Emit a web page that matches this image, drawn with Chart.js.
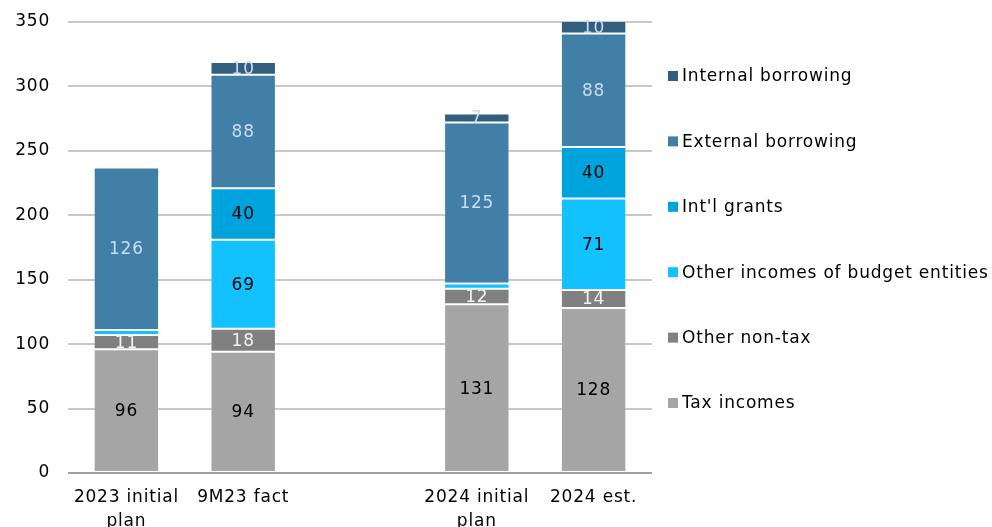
<!DOCTYPE html>
<html><head><meta charset="utf-8">
<script src="https://cdn.jsdelivr.net/npm/chart.js@4/dist/chart.umd.min.js"></script>
<style>html,body{margin:0;padding:0;background:#fff;overflow:hidden}#wrap{width:992px;height:527px;position:relative;overflow:hidden}</style>
</head><body><div id="wrap"><canvas id="c" width="992" height="527"></canvas></div>
<script>
const categories = [["2023 initial","plan"], "9M23 fact", "", ["2024 initial","plan"], "2024 est."];
const taxIncomes      = [96, 94, null, 131, 128];
const otherNonTax     = [11, 18, null, 12, 14];
const otherIncomes    = [4, 69, null, 4, 71];
const intlGrants      = [0, 40, null, 0, 40];
const externalBorrow  = [126, 88, null, 125, 88];
const internalBorrow  = [-1, 10, null, 7, 10];
const yTicks = [0, 50, 100, 150, 200, 250, 300, 350];

const FONT = "'DejaVu Sans', Verdana, sans-serif";
const LS = '0.8px';
const series = [
  {label:"Tax incomes", data:taxIncomes, color:"#A5A5A5", txt:"#000000"},
  {label:"Other non-tax", data:otherNonTax, color:"#808080", txt:"#F2F2F2"},
  {label:"Other incomes of budget entities", data:otherIncomes, color:"#14C1FF", txt:"#000000"},
  {label:"Int'l grants", data:intlGrants, color:"#00A3DC", txt:"#000000"},
  {label:"External borrowing", data:externalBorrow, color:"#427FA6", txt:"#C9DDF0"},
  {label:"Internal borrowing", data:internalBorrow, color:"#325F7E", txt:"#C9DDF0"}
];

const spacingPlugin = {
  id:'spacing',
  beforeUpdate(chart){ chart.ctx.letterSpacing = LS; },
  beforeLayout(chart){ chart.ctx.letterSpacing = LS; },
  beforeDraw(chart){ chart.ctx.letterSpacing = LS; },
  beforeDatasetsDraw(chart){ chart.ctx.letterSpacing = LS; }
};

const labelPlugin = {
  id:'vals',
  afterDatasetsDraw(chart){
    const ctx = chart.ctx;
    ctx.save();
    ctx.letterSpacing = LS;
    ctx.font = "17px " + FONT;
    ctx.textAlign = 'center';
    ctx.textBaseline = 'middle';
    chart.data.datasets.forEach((ds, di) => {
      const meta = chart.getDatasetMeta(di);
      meta.data.forEach((el, i) => {
        const v = ds.data[i];
        if (v == null || v < 5) return;
        const {x, y, base} = el.getProps(['x','y','base'], true);
        ctx.fillStyle = series[di].txt;
        ctx.fillText(String(v), x, (y + base) / 2 + 1);
      });
    });
    ctx.restore();
  }
};

const legendPlugin = {
  id:'sideLegend',
  afterDraw(chart){
    const ctx = chart.ctx;
    ctx.save();
    ctx.letterSpacing = LS;
    ctx.font = "17px " + FONT;
    ctx.textBaseline = 'middle';
    ctx.textAlign = 'left';
    const n = chart.data.datasets.length;
    const top = 76, step = 65.4;
    for (let k = 0; k < n; k++) {
      const di = n - 1 - k;
      const ds = chart.data.datasets[di];
      const yc = top + k * step;
      ctx.fillStyle = ds.backgroundColor;
      ctx.fillRect(668, yc - 5, 10, 10);
      ctx.fillStyle = '#000';
      ctx.fillText(ds.label, 682, yc + 1);
    }
    ctx.restore();
  }
};

new Chart(document.getElementById('c'), {
  type:'bar',
  data:{
    labels: categories,
    datasets: series.map(s => ({
      label:s.label, data:s.data, backgroundColor:s.color,
      borderColor:'rgba(255,255,255,0.18)', borderWidth:1, borderSkipped:false,
      barPercentage:1, categoryPercentage:0.56
    }))
  },
  options:{
    responsive:false, animation:false, devicePixelRatio:1,
    layout:{padding:{left:0, right:340, top:22, bottom:0}},
    plugins:{legend:{display:false}, tooltip:{enabled:false}},
    scales:{
      x:{stacked:true,
        afterFit(ax){ ax.height = 54; ax.paddingLeft = 0; ax.paddingRight = 0; },
        grid:{display:false, drawTicks:false},
        border:{display:false},
        ticks:{color:'#000', font:{family:FONT, size:17, lineHeight:1.4}, padding:13, maxRotation:0, autoSkip:false}
      },
      y:{stacked:true, min:0, max:350,
        afterFit(ax){ ax.width = 68; ax.paddingTop = 0; ax.paddingBottom = 0; },
        afterBuildTicks(ax){ ax.ticks = yTicks.map(v => ({value:v})); },
        grid:{color:(c)=> c.tick && c.tick.value===0 ? '#A0A0A0' : '#C8C8C8', lineWidth:2, drawTicks:false},
        border:{display:false},
        ticks:{color:'#000', font:{family:FONT, size:17}, padding:18}
      }
    }
  },
  plugins:[spacingPlugin, labelPlugin, legendPlugin]
});
</script></body></html>
